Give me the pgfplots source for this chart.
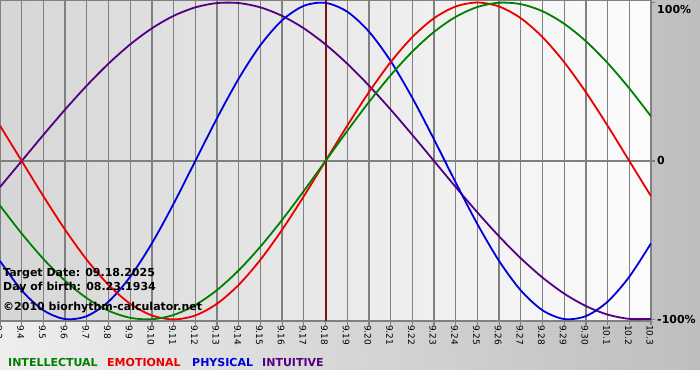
\documentclass[border=0pt]{standalone}
\usepackage{pgfplots}
\pgfplotsset{compat=1.18}
\usepackage{pgfplotstable}
\usepackage{fontspec}
\setmainfont{DejaVu Sans}
\definecolor{cIntel}{RGB}{0,128,0}
\definecolor{cEmo}{RGB}{235,0,0}
\definecolor{cPhys}{RGB}{0,0,220}
\definecolor{cIntu}{RGB}{85,0,130}
\definecolor{cGrid}{RGB}{128,128,128}
\definecolor{cMark}{RGB}{128,16,16}
\definecolor{cBgL}{RGB}{238,238,238}
\definecolor{cBgR}{RGB}{190,190,190}
\definecolor{cPlotL}{RGB}{214,214,214}
\definecolor{cPlotR}{RGB}{252,252,252}

\pgfplotstableread{
i intel emo phys intu
0 -0.2817 0.2225 -0.6311 -0.1646
1 -0.4582 0.0000 -0.8170 0.0000
2 -0.6182 -0.2225 -0.9423 0.1646
3 -0.7557 -0.4339 -0.9977 0.3247
4 -0.8660 -0.6235 -0.9791 0.4759
5 -0.9450 -0.7818 -0.8879 0.6142
6 -0.9898 -0.9010 -0.7308 0.7357
7 -0.9989 -0.9749 -0.5196 0.8372
8 -0.9718 -1.0000 -0.2698 0.9158
9 -0.9096 -0.9749 0.0000 0.9694
10 -0.8146 -0.9010 0.2698 0.9966
11 -0.6901 -0.7818 0.5196 0.9966
12 -0.5406 -0.6235 0.7308 0.9694
13 -0.3717 -0.4339 0.8879 0.9158
14 -0.1893 -0.2225 0.9791 0.8372
15 0.0000 0.0000 0.9977 0.7357
16 0.1893 0.2225 0.9423 0.6142
17 0.3717 0.4339 0.8170 0.4759
18 0.5406 0.6235 0.6311 0.3247
19 0.6901 0.7818 0.3984 0.1646
20 0.8146 0.9010 0.1362 0.0000
21 0.9096 0.9749 -0.1362 -0.1646
22 0.9718 1.0000 -0.3984 -0.3247
23 0.9989 0.9749 -0.6311 -0.4759
24 0.9898 0.9010 -0.8170 -0.6142
25 0.9450 0.7818 -0.9423 -0.7357
26 0.8660 0.6235 -0.9977 -0.8372
27 0.7557 0.4339 -0.9791 -0.9158
28 0.6182 0.2225 -0.8879 -0.9694
29 0.4582 0.0000 -0.7308 -0.9966
30 0.2817 -0.2225 -0.5196 -0.9966
}\bio

\begin{document}
\begin{tikzpicture}
\useasboundingbox (0,-59pt) rectangle (700pt,321pt);
\fill[white] (0,-59pt) rectangle (700pt,321pt);
\shade[left color=cBgL, right color=cBgR] (0,-48pt) rectangle (700pt,321pt);
\begin{axis}[
  scale only axis,
  width=651pt, height=321pt,
  xmin=0, xmax=30,
  ymin=-1.01, ymax=1.016,
  axis background/.style={left color=cPlotL, right color=cPlotR},
  axis line style={cGrid, line width=1.3pt},
  xtick={0,...,30},
  xticklabels={9.3,9.4,9.5,9.6,9.7,9.8,9.9,9.10,9.11,9.12,9.13,9.14,9.15,9.16,9.17,9.18,9.19,9.20,9.21,9.22,9.23,9.24,9.25,9.26,9.27,9.28,9.29,9.30,10.1,10.2,10.3},
  xmajorgrids,
  grid style={cGrid, line width=1.3pt},
  tick align=outside,
  major tick length=4pt,
  tick style={cGrid, line width=1.2pt},
  xtick pos=bottom,
  ytick={-1,0,1},
  yticklabels={{-100\%},{0},{\smash{\raisebox{-11pt}{100\%}}}},
  yticklabel pos=right,
  ytick pos=right,
  extra y ticks={0},
  extra y tick labels={},
  extra y tick style={ymajorgrids=true},
  /pgf/number format/assume math mode=true,
  xticklabel style={rotate=-90, anchor=west, inner sep=0pt, font=\fontsize{9pt}{10pt}\selectfont, text=black, xshift=0pt, yshift=-1pt},
  yticklabel style={anchor=west, inner sep=0pt, xshift=2pt, font=\bfseries\fontsize{11pt}{13pt}\selectfont, text=black},
  clip=true,
]
\addplot[cMark, line width=2pt] coordinates {(15,-1.01) (15,1.016)};
\addplot[cIntu, line width=1.8pt, smooth] table[x=i, y=intu] {\bio};
\addplot[cPhys, line width=1.8pt, smooth] table[x=i, y=phys] {\bio};
\addplot[cEmo, line width=1.8pt, smooth] table[x=i, y=emo] {\bio};
\addplot[cIntel, line width=1.8pt, smooth] table[x=i, y=intel] {\bio};
\end{axis}
\begin{scope}[every node/.style={anchor=base west, inner sep=0pt, font=\bfseries\fontsize{11pt}{13pt}\selectfont}]
\node[text=black] at (3pt,45pt) {Target Date: 09.18.2025};
\node[text=black] at (3pt,31pt) {Day of birth: 08.23.1934};
\node[text=black] at (3pt,11pt) {©2010 biorhythm-calculator.net};
\node[text=cIntel] at (8pt,-45pt) {INTELLECTUAL};
\node[text=cEmo] at (107pt,-45pt) {EMOTIONAL};
\node[text=cPhys] at (192pt,-45pt) {PHYSICAL};
\node[text=cIntu] at (262pt,-45pt) {INTUITIVE};
\end{scope}
\end{tikzpicture}
\end{document}
